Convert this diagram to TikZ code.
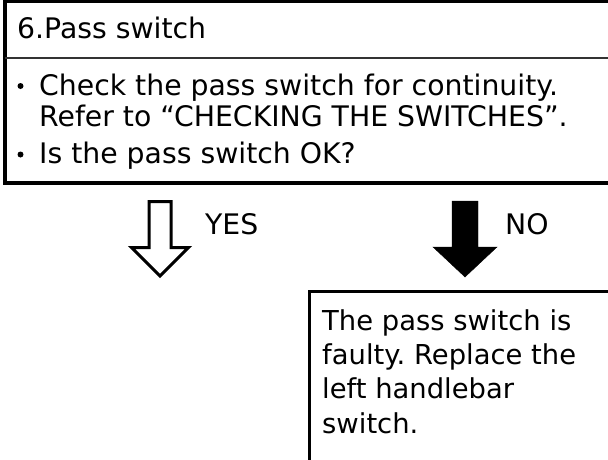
\documentclass[tikz,border=0pt]{standalone}
\usepackage{fontspec}
\setmainfont{DejaVu Sans}
\usetikzlibrary{positioning}
\frenchspacing
\tikzset{
  boxline/.style={line width=3.5pt, draw=black},
  rule/.style={line width=2.5pt, draw=black!80},
  txt/.style={inner sep=0pt, align=left, font=\fontsize{28.3}{31}\selectfont},
  answer/.style={inner sep=0pt, align=left, font=\fontsize{27.4}{34.3}\selectfont},
  dot/.style={circle, fill=black, inner sep=0pt, minimum size=6pt},
  openarrow/.style={line width=3pt, draw=black, fill=white, line join=miter},
  fullarrow/.style={draw=black, fill=black},
}

\begin{document}
\begin{tikzpicture}[x=1pt, y=-1pt]
  \useasboundingbox (0,0) rectangle (608,459);
  \clip (0,0) rectangle (608,459);
  % question box
  \draw[boxline] (620,1.5) -- (5,1.5) -- (5,183) -- (620,183);
  \draw[rule] (5,58) -- (620,58);
  \node[txt, anchor=base west] (title) at (17,38) {6.Pass switch};
  \node[dot] (dotA) at (20.5,86) {};
  \node[txt, anchor=base west] (check) at (39,126) {Check the pass switch for continuity.\\Refer to “CHECKING THE SWITCHES”.};
  \node[dot] (dotB) at (20.5,154.5) {};
  \node[txt, anchor=base west] (isok) at (39,163) {Is the pass switch OK?};
  % answer arrows
  \coordinate (yes) at (160,201.5);
  \coordinate (no) at (465,201);
  \draw[openarrow] (yes) -- ++(-11,0) -- ++(0,46) -- ++(-17.5,0) -- ++(28.5,28.5)
    -- ++(28.5,-28.5) -- ++(-17.5,0) -- ++(0,-46) -- cycle;
  \draw[fullarrow] (no) -- ++(-13,0) -- ++(0,46) -- ++(-19,0) -- ++(32,30)
    -- ++(32,-30) -- ++(-19,0) -- ++(0,-46) -- cycle;
  \node[txt, anchor=base west] (yeslbl) at (205,234) {YES};
  \node[txt, anchor=base west] (nolbl) at (505,234) {NO};
  % result box
  \draw[boxline] (309.5,470) -- (309.5,291.5) -- (620,291.5);
  \node[answer, anchor=base west] (fault) at (322,433) {The pass switch is\\faulty. Replace the\\left handlebar\\switch.};
\end{tikzpicture}
\end{document}
